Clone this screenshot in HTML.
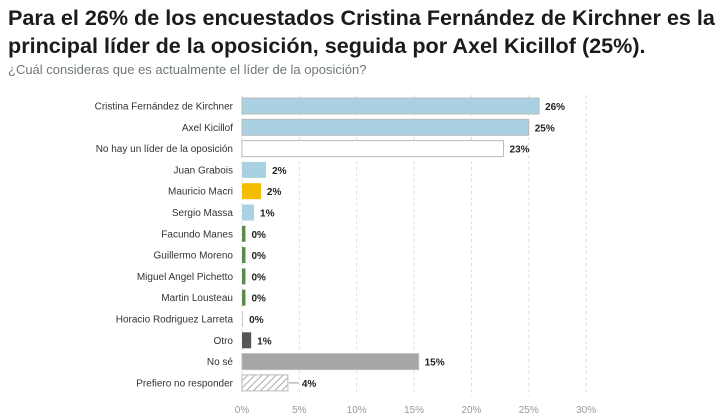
<!DOCTYPE html>
<html><head><meta charset="utf-8"><style>
body{margin:0;width:720px;height:419px;background:#fff;font-family:"Liberation Sans",sans-serif;overflow:hidden}
#t{position:absolute;left:8px;top:4px;font-size:21.6px;font-weight:bold;color:#1b1b1b;line-height:28px;white-space:nowrap}
#s{position:absolute;left:8px;top:62px;font-size:13px;color:#6e7a70;white-space:nowrap}
</style></head><body>
<div id="t">Para el 26% de los encuestados Cristina Fernández de Kirchner es la<br>principal líder de la oposición, seguida por Axel Kicillof (25%).</div>
<div id="s">¿Cuál consideras que es actualmente el líder de la oposición?</div>
<svg id="c" width="720" height="419" style="position:absolute;left:0;top:0">
<defs><pattern id="h" width="5" height="5" patternUnits="userSpaceOnUse" patternTransform="rotate(45)"><rect width="5" height="5" fill="#fff"/><line x1="0" y1="0" x2="0" y2="5" stroke="#aaa" stroke-width="2"/></pattern></defs>
</svg>
<script>
const categories=["Cristina Fernández de Kirchner","Axel Kicillof","No hay un líder de la oposición","Juan Grabois","Mauricio Macri","Sergio Massa","Facundo Manes","Guillermo Moreno","Miguel Angel Pichetto","Martin Lousteau","Horacio Rodriguez Larreta","Otro","No sé","Prefiero no responder"];
const values=[25.9,25.0,22.8,2.1,1.65,1.05,0.3,0.3,0.3,0.3,0.1,0.8,15.4,4.0];
const labels=["26%","25%","23%","2%","2%","1%","0%","0%","0%","0%","0%","1%","15%","4%"];
const colors=["#a9d1e2","#a9d1e2","#fff","#a9d1e2","#f5bd00","#a9d1e2","#5b8a4c","#5b8a4c","#5b8a4c","#5b8a4c","#d0d0d0","#555","#a6a6a6","url(#h)"];
const ticks=[0,5,10,15,20,25,30];
const svg=document.getElementById('c');const NS="http://www.w3.org/2000/svg";
const x=v=>242+v*11.47;const y=i=>106+i*21.3;
function mk(t,a){const e=document.createElementNS(NS,t);for(const k in a)e.setAttribute(k,a[k]);svg.appendChild(e);return e;}
ticks.forEach(t=>{
const l=mk('line',{x1:x(t),x2:x(t),y1:95,y2:396,stroke:'#ddd','stroke-dasharray':'3,3'});


const tx=mk('text',{x:x(t),y:413,'text-anchor':'middle','font-size':10,fill:'#999'});tx.textContent=t+'%';


});
categories.forEach((c,i)=>{
const cy=y(i);
const lb=mk('text',{x:233,y:cy+3.5,'text-anchor':'end','font-size':10,fill:'#333'});lb.textContent=c;


const w=Math.max(x(values[i])-x(0),1);
const b=mk('rect',{x:x(0),y:cy-8,width:w,height:16,fill:colors[i],stroke:(i==2||i==13||i==12||i<2)?'#bbb':'none','stroke-width':1});


const v=mk('text',{x:x(values[i])+(i==13?14:6),y:cy+4,'font-size':10,'font-weight':'bold',fill:'#222'});v.textContent=labels[i];


if(i==13){const ln=mk('line',{x1:x(values[i])+1,x2:x(values[i])+11,y1:cy,y2:cy,stroke:'#999'});
}
});
</script>
</body></html>
